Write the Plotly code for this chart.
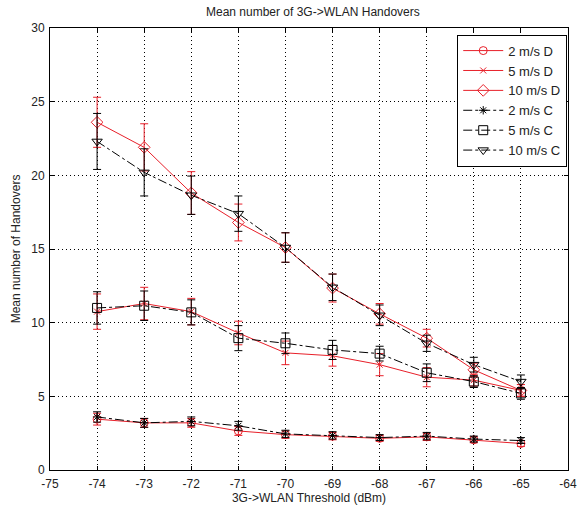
import plotly.graph_objects as go

# Handover threshold (dBm)
thresholds = [-74, -73, -72, -71, -70, -69, -68, -67, -66, -65]
x_ticks = [-75, -74, -73, -72, -71, -70, -69, -68, -67, -66, -65, -64]

# Mean handovers, "D" scheme
d2_mean = [3.45, 3.2, 3.2, 2.65, 2.4, 2.3, 2.15, 2.25, 2.05, 1.8]
d2_err = [0.4, 0.3, 0.3, 0.3, 0.25, 0.25, 0.2, 0.25, 0.2, 0.2]
d5_mean = [10.75, 11.3, 10.75, 9.3, 7.95, 7.75, 7.15, 6.3, 6.1, 5.4]
d5_err = [1.2, 1.1, 0.9, 0.8, 0.8, 0.7, 0.75, 0.65, 0.4, 0.4]
d10_mean = [23.6, 21.9, 18.8, 16.8, 15.1, 12.35, 10.6, 8.95, 6.8, 5.4]
d10_err = [1.7, 1.6, 1.45, 1.25, 1.0, 0.95, 0.7, 0.6, 0.45, 0.4]

# Mean handovers, "C" scheme
c2_mean = [3.6, 3.2, 3.3, 3.0, 2.45, 2.35, 2.2, 2.3, 2.1, 2.0]
c2_err = [0.35, 0.3, 0.3, 0.3, 0.25, 0.25, 0.2, 0.25, 0.2, 0.2]
c5_mean = [11.0, 11.15, 10.7, 8.95, 8.6, 8.15, 7.9, 6.6, 6.0, 5.2]
c5_err = [1.1, 1.0, 0.85, 0.85, 0.7, 0.65, 0.5, 0.6, 0.4, 0.4]
c10_mean = [22.3, 20.2, 18.65, 17.4, 15.1, 12.4, 10.5, 8.6, 7.15, 6.0]
c10_err = [1.9, 1.6, 1.3, 1.2, 1.0, 0.9, 0.7, 0.55, 0.5, 0.45]

RED = "#e8202a"
BLACK = "#000000"

series = [
    ("2 m/s D", d2_mean, d2_err, RED, "solid", "circle-open", 8),
    ("5 m/s D", d5_mean, d5_err, RED, "solid", "x-thin-open", 6),
    ("10 m/s D", d10_mean, d10_err, RED, "solid", "diamond-open", 9),
    ("2 m/s C", c2_mean, c2_err, BLACK, "dashdot", "asterisk-open", 7),
    ("5 m/s C", c5_mean, c5_err, BLACK, "dashdot", "square-open", 9),
    ("10 m/s C", c10_mean, c10_err, BLACK, "dashdot", "triangle-down-open", 9),
]

fig = go.Figure()
for name, mean, err, color, dash, symbol, size in series:
    fig.add_trace(go.Scatter(
        x=thresholds, y=mean, name=name, mode="lines+markers",
        line=dict(color=color, width=1, dash=dash),
        marker=dict(symbol=symbol, size=size, color=color,
                    line=dict(color=color, width=1)),
        error_y=dict(type="data", array=err, visible=True,
                     color=color, thickness=1, width=4),
    ))

axis_common = dict(
    showline=True, linecolor="black", linewidth=1, mirror="ticks",
    ticks="inside", ticklen=4, tickcolor="black",
    showgrid=True, gridcolor="black", gridwidth=1, griddash="1px,3px",
    zeroline=False, tickfont=dict(size=12, color="#222"),
)

fig.update_layout(
    width=587, height=512,
    margin=dict(l=50, r=10, t=28, b=42),
    paper_bgcolor="white", plot_bgcolor="white",
    font=dict(family="Liberation Sans, Arial, sans-serif", size=12, color="#222"),
    title=dict(text="Mean number of 3G->WLAN Handovers", x=0.533, xanchor="center",
               y=0.977, yanchor="middle", font=dict(size=12)),
    xaxis=dict(range=[-75, -64], tickvals=x_ticks,
               ticktext=[str(v) for v in x_ticks], ticklabelstandoff=3,
               title=dict(text="3G->WLAN Threshold (dBm)", standoff=2, font=dict(size=12)),
               **axis_common),
    yaxis=dict(range=[0, 30], dtick=5, ticklabelstandoff=2,
               title=dict(text="Mean number of Handovers", standoff=8, font=dict(size=12)),
               **axis_common),
    legend=dict(x=0.9985, y=0.985, xanchor="right", yanchor="top",
                bgcolor="white", bordercolor="black", borderwidth=1,
                font=dict(size=13), tracegroupgap=0, itemwidth=40),
    showlegend=True,
)

fig.write_html("out.html")
